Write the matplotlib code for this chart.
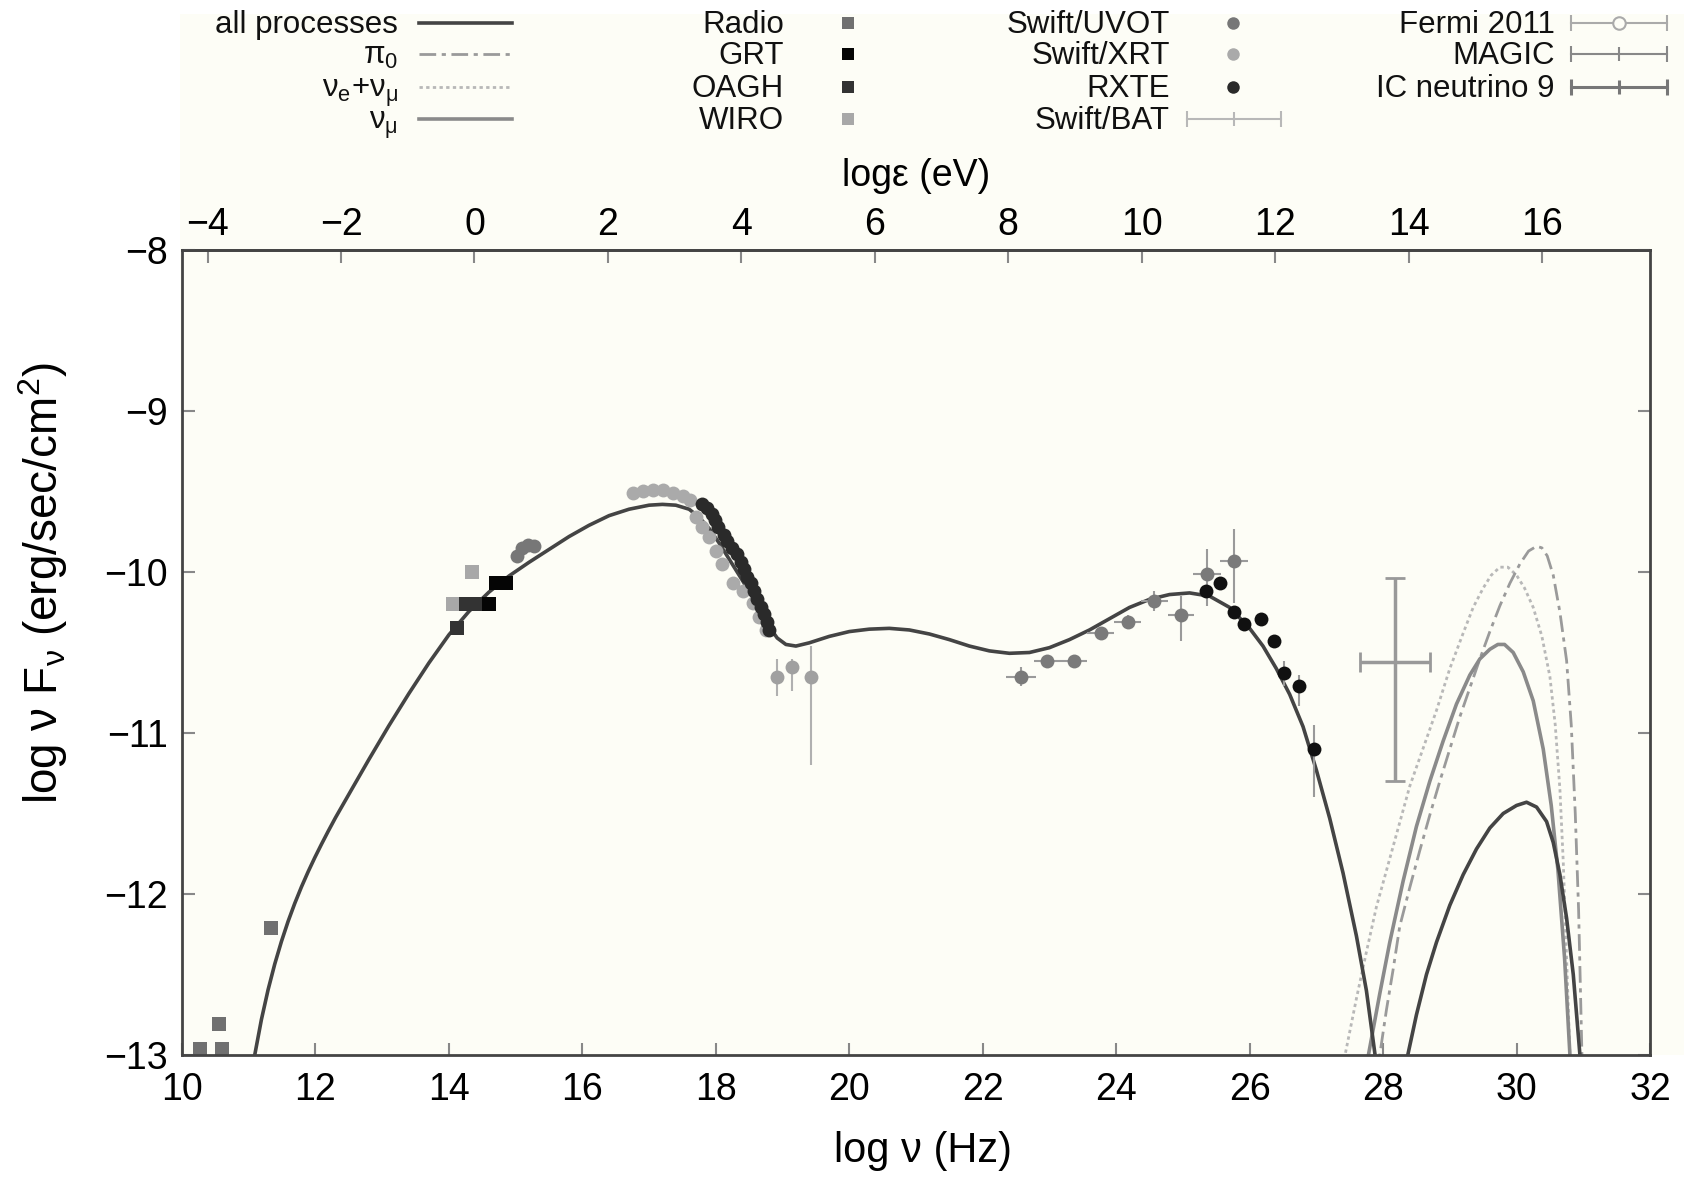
import numpy as np
import matplotlib.pyplot as plt
from matplotlib.patches import Rectangle

plt.rcParams['font.family'] = ['Liberation Sans', 'DejaVu Sans']
plt.rcParams['mathtext.fontset'] = 'custom'
plt.rcParams['mathtext.rm'] = 'Liberation Sans'
plt.rcParams['mathtext.it'] = 'Liberation Sans'
plt.rcParams['mathtext.bf'] = 'Liberation Sans:bold'

# ---- model curves (log nu [Hz], log nuFnu) ----
all_nu = [11.09, 11.19, 11.29, 11.39, 11.49, 11.59, 11.69, 11.79, 11.89, 11.99, 12.09,
          12.19, 12.3, 12.55, 12.8, 13.1, 13.4, 13.7, 14.0, 14.3, 14.6, 14.9, 15.2, 15.5,
          15.8, 16.1, 16.4, 16.7, 17.0, 17.2, 17.4, 17.6, 17.75, 17.9, 18.05, 18.2, 18.35,
          18.5, 18.65, 18.8, 18.92, 19.05, 19.2, 19.4, 19.7, 20.0, 20.3, 20.6, 20.9, 21.2,
          21.5, 21.8, 22.1, 22.4, 22.7, 23.0, 23.3, 23.6, 23.9, 24.2, 24.5, 24.8, 25.1,
          25.4, 25.7, 26.0, 26.2, 26.4, 26.6, 26.8, 27.0, 27.2, 27.4, 27.6, 27.75, 27.88,
          27.95]
all_y = [-13.0, -12.78, -12.595, -12.435, -12.295, -12.17, -12.058, -11.956, -11.862,
         -11.774, -11.691, -11.611, -11.526, -11.345, -11.165, -10.955, -10.755, -10.565,
         -10.39, -10.245, -10.125, -10.025, -9.94, -9.86, -9.78, -9.71, -9.65, -9.61,
         -9.585, -9.58, -9.585, -9.61, -9.66, -9.73, -9.82, -9.92, -10.02, -10.12, -10.23,
         -10.34, -10.41, -10.45, -10.46, -10.44, -10.4, -10.37, -10.355, -10.35, -10.36,
         -10.385, -10.42, -10.46, -10.49, -10.505, -10.5, -10.47, -10.42, -10.36, -10.29,
         -10.22, -10.17, -10.14, -10.13, -10.15, -10.22, -10.35, -10.46, -10.6, -10.76,
         -10.96, -11.23, -11.53, -11.87, -12.26, -12.6, -13.0, -13.2]
# high-energy part of "all processes"
allhi_nu = [28.3, 28.37, 28.5, 28.65, 28.8, 29.0, 29.2, 29.4, 29.6, 29.8, 30.0, 30.15,
            30.3, 30.45, 30.55, 30.65, 30.75, 30.85, 30.95, 31.0]
allhi_y = [-13.15, -13.0, -12.75, -12.5, -12.3, -12.07, -11.88, -11.72, -11.59, -11.5,
           -11.45, -11.43, -11.46, -11.55, -11.68, -11.88, -12.15, -12.5, -13.0, -13.3]

pi0_nu = [27.85, 27.95, 28.05, 28.15, 28.25, 28.4, 28.55, 28.7, 28.85, 29.0, 29.15, 29.3,
          29.45, 29.6, 29.75, 29.9, 30.05, 30.18, 30.3, 30.38, 30.46, 30.55, 30.65, 30.75,
          30.82, 30.88, 30.93, 30.98, 31.0]
pi0_y = [-13.15, -13.0, -12.72, -12.47, -12.2, -11.96, -11.73, -11.51, -11.3, -11.1,
         -10.9, -10.72, -10.54, -10.37, -10.21, -10.07, -9.95, -9.87, -9.84, -9.85, -9.9,
         -10.02, -10.25, -10.55, -10.95, -11.5, -12.1, -13.0, -13.3]

nue_nu = [27.38, 27.43, 27.6, 27.75, 27.9, 28.1, 28.4, 28.8, 29.0, 29.2, 29.35, 29.5,
          29.62, 29.75, 29.87, 30.0, 30.12, 30.25, 30.38, 30.5, 30.58, 30.65, 30.7,
          30.75, 30.8, 30.82]
nue_y = [-13.15, -13.0, -12.65, -12.36, -12.08, -11.78, -11.33, -10.86, -10.6, -10.38,
         -10.22, -10.1, -10.02, -9.97, -9.97, -10.02, -10.1, -10.22, -10.4, -10.65,
         -10.95, -11.35, -11.8, -12.4, -13.0, -13.2]

numu_nu = [27.7, 27.78, 27.95, 28.1, 28.3, 28.5, 28.7, 28.9, 29.1, 29.3, 29.45, 29.6,
           29.72, 29.82, 29.95, 30.1, 30.25, 30.4, 30.52, 30.62, 30.72, 30.8, 30.83]
numu_y = [-13.15, -13.0, -12.62, -12.3, -11.92, -11.58, -11.3, -11.05, -10.82, -10.64,
          -10.54, -10.48, -10.45, -10.45, -10.5, -10.62, -10.8, -11.1, -11.45, -11.85,
          -12.4, -13.0, -13.2]

# ---- data points ----
radio_nu = [10.27, 10.55, 10.6, 11.33]
radio_y = [-12.96, -12.81, -12.96, -12.21]
grt_nu = [14.6, 14.7, 14.86]
grt_y = [-10.2, -10.07, -10.07]
oagh_nu = [14.12, 14.25, 14.42]
oagh_y = [-10.35, -10.2, -10.2]
wiro_nu = [14.06, 14.35]
wiro_y = [-10.2, -10.0]
uvot_nu = [15.02, 15.09, 15.19, 15.27]
uvot_y = [-9.9, -9.85, -9.83, -9.84]
xrt_nu = [16.76, 16.91, 17.06, 17.21, 17.36, 17.51, 17.62,
          17.7, 17.8, 17.9, 18.0, 18.1, 18.25, 18.4, 18.55, 18.65, 18.75]
xrt_y = [-9.51, -9.5, -9.49, -9.49, -9.51, -9.53, -9.55,
         -9.66, -9.72, -9.78, -9.87, -9.95, -10.07, -10.12, -10.19, -10.28, -10.36]
rxte_nu = [17.79, 17.87, 17.94, 17.99, 18.04, 18.12, 18.17, 18.24, 18.32, 18.37,
           18.42, 18.47, 18.52, 18.57, 18.62, 18.67, 18.72, 18.77, 18.79]
rxte_y = [-9.58, -9.6, -9.64, -9.68, -9.72, -9.77, -9.81, -9.85, -9.89, -9.94,
          -9.98, -10.03, -10.07, -10.12, -10.17, -10.22, -10.26, -10.31, -10.36]
bat_nu = [18.92, 19.14, 19.43]
bat_y = [-10.65, -10.59, -10.65]
bat_lo = [0.12, 0.15, 0.55]
bat_hi = [0.11, 0.05, 0.19]
fermi_nu = [22.57, 22.97, 23.37, 23.77, 24.17, 24.57, 24.97, 25.36, 25.77]
fermi_y = [-10.65, -10.55, -10.55, -10.38, -10.31, -10.18, -10.27, -10.01, -9.93]
fermi_xe = [0.225, 0.2, 0.2, 0.2, 0.2, 0.2, 0.2, 0.21, 0.21]
fermi_lo = [0.06, 0.03, 0.03, 0.04, 0.04, 0.06, 0.16, 0.2, 0.26]
fermi_hi = [0.06, 0.03, 0.03, 0.04, 0.04, 0.06, 0.12, 0.15, 0.2]
magic_nu = [25.34, 25.56, 25.76, 25.92, 26.17, 26.36, 26.52, 26.74, 26.97]
magic_y = [-10.12, -10.07, -10.25, -10.32, -10.29, -10.43, -10.63, -10.71, -11.1]
magic_lo = [0.02, 0.02, 0.02, 0.02, 0.02, 0.04, 0.08, 0.12, 0.3]
magic_hi = [0.02, 0.02, 0.02, 0.02, 0.02, 0.04, 0.08, 0.07, 0.15]
ic_nu = [28.18]
ic_y = [-10.56]
ic_xe = [0.52]
ic_lo = [0.74]
ic_hi = [0.52]

cream = '#fdfdf6'
dark = '#444444'

fig = plt.figure(figsize=(16.84, 11.77), dpi=100)
fig.patch.set_facecolor('white')

# background / legend layer in pixel coordinates
lg = fig.add_axes([0, 0, 1, 1], zorder=0)
lg.set_xlim(0, 1684)
lg.set_ylim(1177, 0)
lg.axis('off')
lg.add_patch(Rectangle((180, 14), 1504, 1041, fc=cream, ec='none'))

ax = fig.add_axes([182 / 1684, 1 - 1055 / 1177, 1468 / 1684, 805 / 1177], zorder=1)
ax.set_facecolor(cream)

# model curves
ax.plot(nue_nu, nue_y, color='#b8b8b8', lw=2, ls=(0, (1.2, 1.2)))
ax.plot(pi0_nu, pi0_y, color='#9a9a9a', lw=2, ls=(0, (6, 2, 1.5, 2)))
ax.plot(numu_nu, numu_y, color='#8a8a8a', lw=2.6)
ax.plot(all_nu, all_y, color=dark, lw=2.6)
ax.plot(allhi_nu, allhi_y, color=dark, lw=2.6)

# data
sq = dict(ls='none', marker='s', ms=10, mew=0)
ax.plot(radio_nu, radio_y, color='#707070', **sq)
ax.plot(wiro_nu, wiro_y, color='#a8a8a8', **sq)
ax.plot(oagh_nu, oagh_y, color='#333333', **sq)
ax.plot(grt_nu, grt_y, color='#050505', **sq)
ci = dict(ls='none', marker='o', ms=10, mew=0)
ax.plot(uvot_nu, uvot_y, color='#777777', **ci)
ax.plot(xrt_nu, xrt_y, color='#aaaaaa', **ci)
ax.plot(rxte_nu, rxte_y, color='#2a2a2a', **ci)
ax.errorbar(bat_nu, bat_y, yerr=[bat_lo, bat_hi], fmt='o', ms=10, mew=0,
            color='#a0a0a0', ecolor='#b0b0b0', elinewidth=1.5, capsize=5)
ax.errorbar(fermi_nu, fermi_y, xerr=fermi_xe, yerr=[fermi_lo, fermi_hi], fmt='o', ms=10,
            mew=0, color='#7a7a7a', ecolor='#9a9a9a', elinewidth=1.5, capsize=4)
ax.errorbar(magic_nu, magic_y, yerr=[magic_lo, magic_hi], fmt='o', ms=10, mew=0,
            color='#111111', ecolor='#999999', elinewidth=1.5, capsize=5)
ax.errorbar(ic_nu, ic_y, xerr=ic_xe, yerr=[ic_lo, ic_hi], fmt='none',
            ecolor='#999999', elinewidth=2.5, capsize=7, capthick=2)

ax.set_xlim(10, 32)
ax.set_ylim(-13, -8)
ax.set_xticks(range(10, 33, 2))
ax.set_yticks(range(-13, -7))
for s in ax.spines.values():
    s.set_color(dark)
    s.set_linewidth(2)
ax.tick_params(axis='both', direction='in', length=9, width=1.5, color='#888888',
               labelsize=27, right=True)
ax.tick_params(axis='x', pad=12)
ax.tick_params(axis='y', pad=10)
ax.set_xlabel('log ν (Hz)', fontsize=30)
ax.xaxis.set_label_coords(0.505, -0.095)
ax.set_ylabel('log ν F$_\\nu$ (erg/sec/cm$^2$)', fontsize=33)
ax.yaxis.set_label_coords(-0.076, 0.586)

secax = ax.secondary_xaxis('top', functions=(lambda x: x - 14.383, lambda e: e + 14.383))
secax.set_xticks(range(-4, 17, 2))
secax.tick_params(direction='in', length=9, width=1.5, color='#888888', labelsize=27, pad=5)
secax.spines['top'].set_color(dark)
secax.spines['top'].set_linewidth(2)
secax.set_xlabel('logε (eV)', fontsize=27, labelpad=15)

# ---- legend drawn in the top band ----
rows = [23, 54, 87, 119]
fs = 22.5
base = 10


def label(x, r, s):
    lg.text(x, rows[r] + base, s, ha='right', va='baseline', fontsize=fs, color='#111111')


label(398, 0, 'all processes')
label(398, 1, 'π$_0$')
label(398, 2, 'ν$_e$+ν$_\\mu$')
label(398, 3, 'ν$_\\mu$')
lg.plot([419, 512], [rows[0]] * 2, color=dark, lw=2.6)
lg.plot([419, 512], [rows[1]] * 2, color='#9a9a9a', lw=2, ls=(0, (6, 2, 1.5, 2)))
lg.plot([419, 512], [rows[2]] * 2, color='#b8b8b8', lw=2, ls=(0, (1.2, 1.2)))
lg.plot([419, 512], [rows[3]] * 2, color='#8a8a8a', lw=2.6)

for r, (s, c) in enumerate([('Radio', '#707070'), ('GRT', '#050505'),
                            ('OAGH', '#333333'), ('WIRO', '#a8a8a8')]):
    label(784, r, s)
    lg.plot([848], [rows[r]], marker='s', ms=9, mew=0, color=c)

for r, (s, c) in enumerate([('Swift/UVOT', '#777777'), ('Swift/XRT', '#aaaaaa'),
                            ('RXTE', '#2a2a2a')]):
    label(1170, r, s)
    lg.plot([1233], [rows[r]], marker='o', ms=9, mew=0, color=c)
label(1170, 3, 'Swift/BAT')
lg.plot([1187, 1281], [rows[3]] * 2, color='#b8b8b8', lw=1.5)
lg.plot([1187, 1281], [rows[3]] * 2, ls='none', marker='|', ms=12, mew=1.5, color='#b8b8b8')
lg.plot([1234], [rows[3]], marker='|', ms=10, mew=1.5, color='#b8b8b8')

for r, (s, c, m) in enumerate([('Fermi 2011', '#aaaaaa', 'o'), ('MAGIC', '#888888', '|'),
                               ('IC neutrino 9', '#777777', '|')]):
    label(1555, r, s)
    lw = 2.2 if r == 2 else 1.5
    lg.plot([1571, 1667], [rows[r]] * 2, color=c, lw=lw)
    lg.plot([1571, 1667], [rows[r]] * 2, ls='none', marker='|', ms=12, mew=lw, color=c)
    if m == 'o':
        lg.plot([1619], [rows[r]], marker='o', ms=9, mfc=cream, mec=c, mew=1.5)
    else:
        lg.plot([1619], [rows[r]], marker='|', ms=10, mew=lw, color=c)

fig.savefig('out.png', dpi=100, facecolor='white')
